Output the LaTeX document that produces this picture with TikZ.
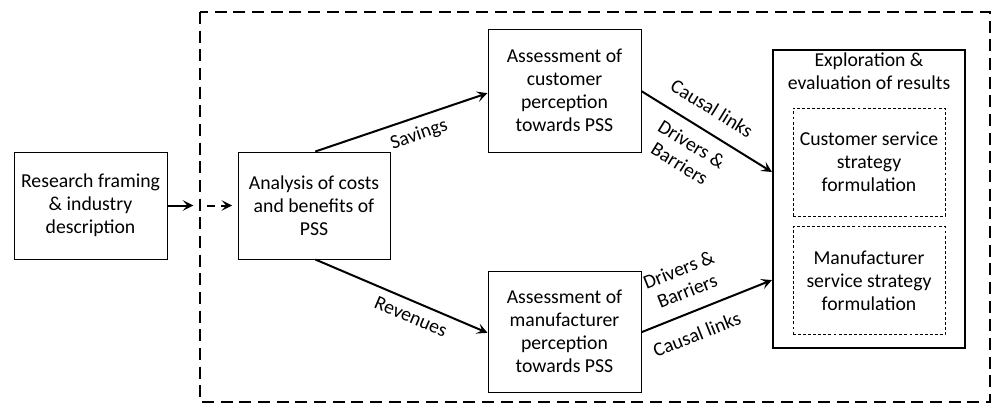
\documentclass[tikz,border=0pt]{standalone}
\usepackage{fontspec}
\setmainfont{Carlito}
\usetikzlibrary{positioning,arrows.meta}

\begin{document}
\begin{tikzpicture}[x=0.75pt,y=-0.75pt,
		font=\fontsize{14.8}{17.25}\selectfont,
		box/.style={draw,line width=0.75pt,align=center,inner sep=1pt},
		subbox/.style={draw,dash pattern=on 2.2pt off 1.6pt,line width=0.6pt,align=center,minimum width=114pt,minimum height=81pt,inner sep=1pt},
		frame/.style={draw,line width=1.6pt,dash pattern=on 9pt off 5pt},
		flow/.style={-{Stealth[length=8pt,width=8pt,inset=3.5pt]},line width=1.5pt},
		lbl/.style={sloped,align=center,inner sep=1pt}]
	\useasboundingbox (0,0) rectangle (997,412);
	% outer frame
	\draw[frame] (200,12) rectangle (990,402);
	\coordinate (gate) at (200,205.5);
	% boxes
	\node[box,minimum width=114.75pt,minimum height=80.25pt] (research) at (90.5,205.5) {Research framing\\ \& industry\\ description};
	\node[box,minimum width=114pt,minimum height=80.25pt] (analysis) at (314,205.5) {Analysis of costs\\ and benefits of\\ PSS};
	\node[box,minimum width=114.75pt,minimum height=92.25pt] (customer) at (564.5,90.5) {Assessment of\\ customer\\ perception\\ towards PSS};
	\node[box,minimum width=114.75pt,minimum height=90.75pt] (manufacturer) at (564.5,331.5) {Assessment of\\ manufacturer\\ perception\\ towards PSS};
	\node[box,line width=1.6pt,minimum width=144pt,minimum height=223.5pt] (explore) at (869,199) {};
	\node[anchor=north,align=center,inner sep=3pt] (exptitle) at (explore.north) {Exploration \&\\ evaluation of results};
	\node[subbox] (custstrat) at (869,162) {Customer service\\ strategy\\ formulation};
	\node[subbox,below=7.5pt of custstrat] (manustrat) {Manufacturer\\ service strategy\\ formulation};
	% connectors
	\draw[flow,shorten >=5pt] (research.east) -- (gate);
	\draw[flow,dash pattern=on 6pt off 5pt,shorten <=5pt,shorten >=4pt] (gate) -- (analysis.west);
	\draw[flow] ([xshift=1pt]analysis.north) -- ([yshift=-2pt]customer.west)
		node[lbl,pos=0.57,below=5pt] {Savings};
	\draw[flow] ([xshift=1pt]analysis.south) -- ([yshift=-1pt]manufacturer.west)
		node[lbl,pos=0.59,below=5pt] {Revenues};
	\draw[flow] ([yshift=-0.5pt]customer.east) -- ([yshift=20.25pt]explore.west)
		node[lbl,pos=0.45,above=10pt] {Causal links}
		node[lbl,pos=0.46,below=7pt] {Drivers \&\\ Barriers};
	\draw[flow] ([yshift=-0.5pt]manufacturer.east) -- ([yshift=51.75pt]explore.south west)
		node[lbl,pos=0.41,above=9pt] {Drivers \&\\ Barriers}
		node[lbl,pos=0.36,below=10pt] {Causal links};
\end{tikzpicture}
\end{document}
